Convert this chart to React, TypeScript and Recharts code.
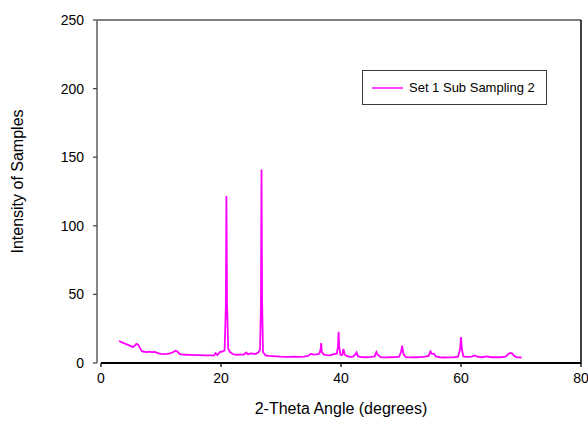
import React from 'react';
import { LineChart, Line, XAxis, YAxis, Legend, ReferenceLine } from 'recharts';

const FONT = '"Liberation Sans", Arial, Helvetica, sans-serif';

const seriesName = 'Set 1 Sub Sampling 2';
const xTitle = '2-Theta Angle (degrees)';
const yTitle = 'Intensity of Samples';

const xTicks = [0, 20, 40, 60, 80];
const yTicks = [0, 50, 100, 150, 200, 250];
const rightTicks = [0, 1, 2, 3, 4, 5, 6];

// 2-theta positions (degrees)
const angles = [
  3.0, 3.4, 3.8, 4.2, 4.6, 5.0, 5.3, 5.6, 5.9, 6.2, 6.5, 6.8, 7.2, 7.6, 8.0, 8.5, 9.0, 9.5,
  10.0, 10.5, 11.0, 11.5, 12.0, 12.4, 12.7, 13.1, 13.6, 14.2, 15.0, 15.8, 16.6, 17.4, 18.2,
  18.8, 19.1, 19.4, 19.8, 20.3, 20.6, 20.8, 20.9, 21.0, 21.2, 21.5, 22.0, 22.6, 23.2, 23.8,
  24.2, 24.5, 24.9, 25.3, 25.7, 26.2, 26.5, 26.65, 26.75, 26.85, 27.0, 27.4, 28.0, 28.6,
  29.3, 30.0, 30.8, 31.5, 32.2, 33.0, 33.8, 34.5, 35.0, 35.4, 35.9, 36.4, 36.6, 36.7, 36.8,
  37.1, 37.6, 38.2, 38.8, 39.3, 39.5, 39.6, 39.7, 39.9, 40.2, 40.4, 40.6, 41.0, 41.5, 42.0,
  42.4, 42.6, 42.8, 43.4, 44.2, 45.0, 45.6, 45.9, 46.1, 46.6, 47.4, 48.2, 49.0, 49.7, 50.0,
  50.2, 50.4, 50.8, 51.6, 52.4, 53.2, 54.0, 54.6, 54.9, 55.2, 55.5, 55.8, 56.5, 57.3, 58.1,
  58.9, 59.5, 59.85, 60.0, 60.15, 60.4, 61.0, 61.8, 62.3, 62.7, 63.5, 64.3, 65.0, 65.8, 66.6,
  67.4, 67.9, 68.2, 68.5, 68.8, 69.2, 69.7, 70.1,
];

// measured intensity at each angle
const intensity = [
  16.0, 15.2, 14.5, 13.8, 13.0, 12.3, 11.6, 12.5, 13.9, 13.4, 10.8, 8.6, 8.2, 8.0, 8.3, 7.9, 8.0, 7.2,
  6.6, 6.5, 6.6, 7.0, 7.8, 8.9, 8.5, 6.6, 6.1, 6.0, 5.9, 5.8, 5.8, 5.6, 5.5,
  5.4, 7.2, 5.8, 7.9, 8.4, 9.2, 40, 121.7, 45, 10.5, 8.0, 6.4, 6.0, 6.1, 6.2,
  7.6, 6.3, 7.0, 6.9, 6.6, 7.6, 9.5, 40, 141, 45, 8.0, 5.5, 5.2, 5.0,
  4.8, 4.6, 4.5, 4.4, 4.6, 4.5, 4.6, 5.2, 6.8, 6.1, 6.3, 6.8, 10, 14.5, 8,
  6.3, 5.8, 5.6, 6.5, 6.8, 12, 22.8, 12, 6, 5.8, 10.2, 6.2, 5.0, 4.4, 4.6,
  6.5, 7.7, 5.0, 4.3, 4.2, 4.4, 4.8, 8.0, 6.0, 4.3, 4.1, 4.2, 4.3, 4.6, 8,
  12.6, 6.5, 4.3, 4.1, 4.2, 4.3, 4.6, 5.2, 8.4, 6.5, 6.8, 4.8, 4.2, 4.0, 4.1,
  4.2, 4.6, 10, 18.9, 10, 4.8, 4.4, 4.6, 5.5, 4.6, 4.2, 4.8, 4.2, 4.3, 4.2,
  4.6, 6.5, 7.3, 7.0, 5.5, 4.3, 4.1, 4.0,
];

const data = angles.map((angle, i) => ({ angle, intensity: intensity[i] }));

const LegendBox = ({ payload }: any) => {
  const item = payload && payload[0];
  return (
    <div
      style={{
        width: 185,
        height: 35,
        boxSizing: 'border-box',
        border: '1.3px solid #3a3a3a',
        background: '#fff',
        display: 'flex',
        alignItems: 'center',
        fontFamily: FONT,
        fontSize: 13,
        color: '#000',
      }}
    >
      <svg width={46} height={20} style={{ flex: 'none' }}>
        <line x1={9} y1={10} x2={40} y2={10} stroke={item ? item.color : '#ff00ff'} strokeWidth={1.5} />
      </svg>
      <span style={{ whiteSpace: 'nowrap' }}>{item ? item.value : seriesName}</span>
    </div>
  );
};

const YTitle = ({ viewBox }: any) => {
  const x = viewBox.x + 17;
  const y = viewBox.y + viewBox.height / 2 - 10;
  return (
    <text
      x={x}
      y={y}
      transform={`rotate(-90 ${x} ${y})`}
      textAnchor="middle"
      dominantBaseline="central"
      fontFamily={FONT}
      fontSize={16}
      fill="#000"
    >
      {yTitle}
    </text>
  );
};

const XTitle = ({ viewBox }: any) => (
  <text
    x={viewBox.x + viewBox.width / 2 + 2}
    y={viewBox.y + 51}
    textAnchor="middle"
    fontFamily={FONT}
    fontSize={16}
    fill="#000"
  >
    {xTitle}
  </text>
);

export default function App() {
  return (
    <div style={{ position: 'absolute', left: 0, top: 0, background: '#fff' }}>
      <LineChart
        width={588}
        height={423}
        data={data}
        margin={{ top: 20, right: 0, bottom: 0, left: 0 }}
        style={{ fontFamily: FONT }}
      >
        <XAxis
          type="number"
          dataKey="angle"
          domain={[0, 80]}
          ticks={xTicks}
          padding={{ left: 4, right: 0 }}
          axisLine={false}
          tickLine={{ stroke: '#000', strokeWidth: 1.3 }}
          tickSize={4}
          tickMargin={6}
          tick={{ fill: '#000', fontSize: 14, fontFamily: FONT }}
          height={60}
          label={<XTitle />}
        />
        <YAxis
          yAxisId="left"
          type="number"
          domain={[0, 250]}
          ticks={yTicks}
          width={97}
          axisLine={{ stroke: '#868686', strokeWidth: 2 }}
          tickLine={{ stroke: '#444', strokeWidth: 1.2 }}
          tickSize={4}
          tickMargin={9}
          tick={{ fill: '#000', fontSize: 14, fontFamily: FONT }}
          label={<YTitle />}
        />
        <YAxis
          yAxisId="right"
          orientation="right"
          type="number"
          domain={[0, 6]}
          ticks={rightTicks}
          width={7}
          axisLine={{ stroke: '#000', strokeWidth: 1.5 }}
          tickLine={{ stroke: '#000', strokeWidth: 1.3 }}
          tickSize={5}
          tick={false}
        />
        <ReferenceLine yAxisId="left" y={250} stroke="#000" strokeWidth={1.2} />
        <ReferenceLine
          yAxisId="left"
          segment={[{ x: 0, y: 0 }, { x: 80, y: 0 }]}
          stroke="#000"
          strokeWidth={2}
        />
        <Legend
          layout="horizontal"
          verticalAlign="middle"
          align="center"
          wrapperStyle={{ left: 362, top: 70, width: 185, height: 35 }}
          content={<LegendBox />}
        />
        <Line
          yAxisId="left"
          type="linear"
          dataKey="intensity"
          name={seriesName}
          stroke="#ff00ff"
          strokeWidth={1.8}
          dot={false}
          activeDot={false}
          isAnimationActive={false}
        />
      </LineChart>
    </div>
  );
}
